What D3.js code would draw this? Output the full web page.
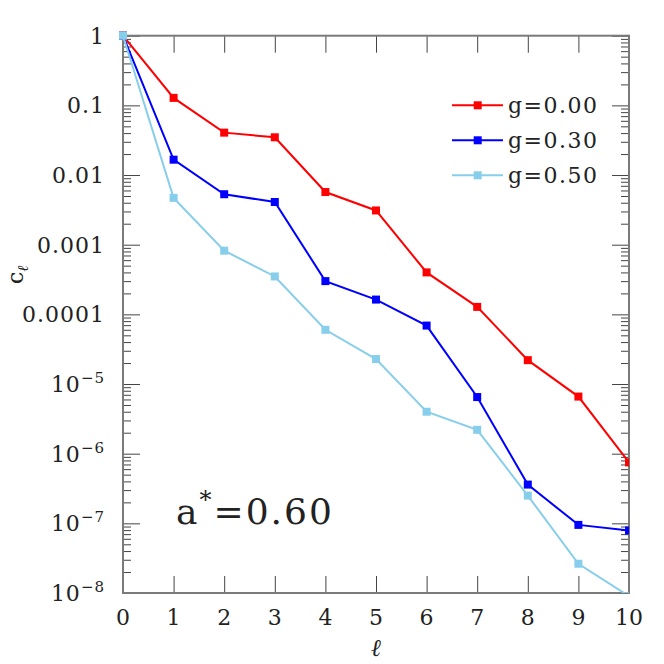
<!DOCTYPE html>
<html>
<head>
<meta charset="utf-8">
<script src="https://d3js.org/d3.v7.min.js"></script>
<style>
  body { margin: 0; background: #fff; }
  text { font-family: "DejaVu Serif", serif; fill: #222; }
</style>
</head>
<body>
<div id="chart"></div>
<script>
// data
var ell = [0, 1, 2, 3, 4, 5, 6, 7, 8, 9, 10];
var g000 = [1, 0.128, 0.0406, 0.0348, 0.0057, 0.0031, 0.0004, 0.000128, 2.2e-5, 6.6e-6, 7.5e-7];
var g030 = [1, 0.0166, 0.0053, 0.0041, 0.00030, 0.000163, 6.9e-5, 6.5e-6, 3.6e-7, 9.5e-8, 7.9e-8];
var g050 = [1, 0.0047, 0.00082, 0.00035, 6.0e-5, 2.28e-5, 4.0e-6, 2.2e-6, 2.5e-7, 2.63e-8, 9e-9];
var seriesNames = ['g=0.00', 'g=0.30', 'g=0.50'];
var seriesColors = ['#ff0000', '#0000ff', '#87ceeb'];
var xTicks = [0, 1, 2, 3, 4, 5, 6, 7, 8, 9, 10];
var yTicks = [1, 0.1, 0.01, 0.001, 0.0001, 1e-5, 1e-6, 1e-7, 1e-8];
var yTickLabels = ['1', '0.1', '0.01', '0.001', '0.0001', '10|−5', '10|−6', '10|−7', '10|−8'];

var width = 664, height = 664;
var margin = {top: 35.7, right: 35, bottom: 71, left: 123};
var w = width - margin.left - margin.right;
var h = height - margin.top - margin.bottom;

var svg = d3.select('#chart').append('svg')
    .attr('width', width)
    .attr('height', height);

var x = d3.scaleLinear().domain([0, 10]).range([0, w]);
var y = d3.scaleLog().domain([1e-8, 1]).range([h, 0]);

var g = svg.append('g')
    .attr('transform', `translate(${margin.left},${margin.top})`);

g.append('clipPath').attr('id', 'clip')
  .append('rect').attr('x', -6).attr('y', -6).attr('width', w + 6).attr('height', h + 6);

// minor ticks on log axis
var minor = [];
for (var e = -8; e < 0; e++) {
  for (var m = 2; m <= 9; m++) minor.push(m * Math.pow(10, e));
}

var tickCol = '#444';
var majorLen = 17, minorLen = 8;

function yAxisTicks(side) {
  var pos = side === 'left' ? 'translate(0,0)' : `translate(${w},0)`;
  var mk = function() { return side === 'left' ? d3.axisRight(y) : d3.axisLeft(y); };
  var a1 = g.append('g').attr('transform', pos)
      .call(mk().tickValues(yTicks).tickSize(majorLen).tickFormat(''));
  var a2 = g.append('g').attr('transform', pos)
      .call(mk().tickValues(minor).tickSize(minorLen).tickFormat(''));
  [a1, a2].forEach(function(a) {
    a.select('.domain').remove();
    a.selectAll('line').attr('stroke', tickCol).attr('stroke-width', 1);
  });
}
yAxisTicks('left');
yAxisTicks('right');

var xb = g.append('g')
    .attr('transform', `translate(0,${h})`)
    .call(d3.axisTop(x).tickValues(xTicks.slice(1, 10)).tickSize(majorLen).tickFormat(''));
var xt = g.append('g')
    .call(d3.axisBottom(x).tickValues(xTicks.slice(1, 10)).tickSize(majorLen).tickFormat(''));
[xb, xt].forEach(function(a) {
  a.select('.domain').remove();
  a.selectAll('line').attr('stroke', tickCol).attr('stroke-width', 1);
});

// frame
g.append('rect')
    .attr('width', w).attr('height', h)
    .attr('fill', 'none')
    .attr('stroke', '#7a7a7a')
    .attr('stroke-width', 2);

// tick labels
g.selectAll('.xlab').data(xTicks).enter().append('text')
    .attr('class', 'xlab')
    .attr('x', d => x(d))
    .attr('y', h + 32)
    .attr('text-anchor', 'middle')
    .style('font-size', '22px')
    .text(d => d);

var yl = g.selectAll('.ylab').data(yTicks).enter().append('text')
    .attr('class', 'ylab')
    .attr('x', -18)
    .attr('y', d => y(d) + 8)
    .attr('text-anchor', 'end')
    .style('font-size', '22px')
    .style('letter-spacing', '1px');
yl.each(function(d, i) {
  var parts = yTickLabels[i].split('|');
  var t = d3.select(this);
  t.append('tspan').text(parts[0]);
  if (parts[1]) {
    t.append('tspan').attr('dy', -9).style('font-size', '15px').text(parts[1]);
  }
});

// series
var allSeries = [g000, g030, g050];
var line = d3.line().x((d, i) => x(ell[i])).y(d => y(d));
var plot = g.append('g').attr('clip-path', 'url(#clip)');
allSeries.forEach(function(s, k) {
  plot.append('path')
      .datum(s)
      .attr('d', line)
      .attr('fill', 'none')
      .attr('stroke', seriesColors[k])
      .attr('stroke-width', 2);
  plot.selectAll(null).data(s).enter().append('rect')
      .attr('x', (d, i) => x(ell[i]) - 4)
      .attr('y', d => y(d) - 4)
      .attr('width', 8).attr('height', 8)
      .attr('fill', seriesColors[k]);
});

// legend
var leg = g.append('g').attr('transform', `translate(${452 - margin.left},${105.3 - margin.top})`);
seriesNames.forEach(function(n, k) {
  var row = leg.append('g').attr('transform', `translate(0,${k * 35})`);
  row.append('line').attr('x1', 0).attr('x2', 51).attr('y1', 0).attr('y2', 0)
      .attr('stroke', seriesColors[k]).attr('stroke-width', 2);
  row.append('rect').attr('x', 21.7).attr('y', -4).attr('width', 8).attr('height', 8)
      .attr('fill', seriesColors[k]);
  row.append('text').attr('x', 56).attr('y', 8)
      .style('font-size', '22px').style('letter-spacing', '1.5px')
      .text(n);
});

// annotation
var ann = g.append('text')
    .attr('x', 176 - margin.left)
    .attr('y', 524 - margin.top)
    .style('font-size', '36px')
    .style('letter-spacing', '2px');
ann.append('tspan').text('a');
ann.append('tspan').attr('dy', -16).style('font-size', '24px').text('*');
ann.append('tspan').attr('dy', 16).text('=0.60');

// axis labels
var ylab = svg.append('text')
    .attr('transform', 'translate(23,284) rotate(-90)')
    .style('font-size', '22px');
ylab.append('tspan').text('c');
ylab.append('tspan').attr('dy', 5).style('font-size', '15px').style('font-style', 'italic').text('ℓ');

svg.append('text')
    .attr('x', margin.left + x(5))
    .attr('y', 656)
    .attr('text-anchor', 'middle')
    .style('font-size', '24px')
    .style('font-style', 'italic')
    .text('ℓ');
</script>
</body>
</html>
